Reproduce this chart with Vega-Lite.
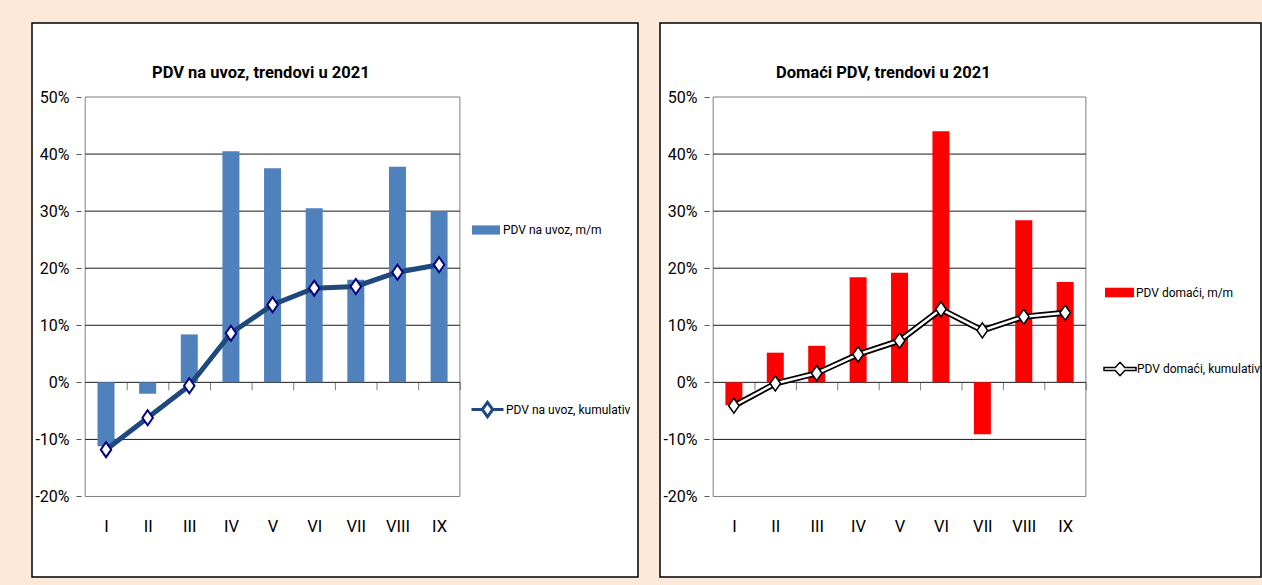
{
  "$schema": "https://vega.github.io/schema/vega-lite/v6.json",
  "background": "#FDE9D9",
  "padding": {"left": 31, "top": 22, "right": 0, "bottom": 7},
  "spacing": 20,
  "datasets": {
    "uvoz": [
      {"m": 1, "mm": -0.112, "kum": -0.118},
      {"m": 2, "mm": -0.02, "kum": -0.062},
      {"m": 3, "mm": 0.084, "kum": -0.006},
      {"m": 4, "mm": 0.405, "kum": 0.086},
      {"m": 5, "mm": 0.375, "kum": 0.136},
      {"m": 6, "mm": 0.305, "kum": 0.165},
      {"m": 7, "mm": 0.18, "kum": 0.168},
      {"m": 8, "mm": 0.378, "kum": 0.193},
      {"m": 9, "mm": 0.30, "kum": 0.206}
    ],
    "domaci": [
      {"m": 1, "mm": -0.04, "kum": -0.041},
      {"m": 2, "mm": 0.052, "kum": -0.002},
      {"m": 3, "mm": 0.064, "kum": 0.016},
      {"m": 4, "mm": 0.184, "kum": 0.049},
      {"m": 5, "mm": 0.192, "kum": 0.073},
      {"m": 6, "mm": 0.44, "kum": 0.128},
      {"m": 7, "mm": -0.091, "kum": 0.091},
      {"m": 8, "mm": 0.284, "kum": 0.115},
      {"m": 9, "mm": 0.176, "kum": 0.122}
    ],
    "grid": [{"v": -0.1}, {"v": 0}, {"v": 0.1}, {"v": 0.2}, {"v": 0.3}, {"v": 0.4}],
    "frame": [{"part": "plot area"}]
  },
  "hconcat": [
    {
      "width": 606,
      "height": 554,
      "title": {"text": "PDV na uvoz, trendovi u 2021", "anchor": "start", "frame": "group", "orient": "top", "offset": -71, "baseline": "alphabetic", "dx": 120},
      "layer": [
        {
          "data": {"name": "frame"},
          "mark": {"type": "rect", "fill": "transparent", "stroke": "#7f7f7f", "strokeWidth": 1},
          "encoding": {
            "x": {"datum": 0.5, "type": "quantitative", "scale": {"domain": [-0.6575, 13.657], "nice": false, "zero": false}, "axis": {"title": null, "values": [1,2,3,4,5,6,7,8,9], "labelExpr": "['I','II','III','IV','V','VI','VII','VIII','IX'][datum.value-1]", "offset": -80.5}},
            "x2": {"datum": 9.5},
            "y": {"datum": -0.2, "type": "quantitative", "scale": {"domain": [-0.3411, 0.6297], "nice": false, "zero": false}, "axis": {"title": null, "values": [-0.2,-0.1,0,0.1,0.2,0.3,0.4,0.5], "labelExpr": "round(datum.value*100) + '%'", "offset": -49}},
            "y2": {"datum": 0.5}
          }
        },
        {
          "data": {"name": "grid"},
          "mark": {"type": "rule", "color": "#1a1a1a", "strokeWidth": 1},
          "encoding": {
            "x": {"datum": 0.5, "type": "quantitative"},
            "x2": {"datum": 9.5},
            "y": {"field": "v", "type": "quantitative"}
          }
        },
        {
          "data": {"name": "uvoz"},
          "mark": {"type": "bar", "orient": "vertical", "width": 17},
          "encoding": {
            "x": {"field": "m", "type": "quantitative"},
            "y": {"field": "mm", "type": "quantitative"},
            "y2": {"datum": 0},
            "fill": {"datum": "PDV na uvoz, m/m", "type": "nominal", "scale": {"range": ["#4F81BD"]},
              "legend": {"title": null, "orient": "none", "legendX": 440, "legendY": 193, "symbolType": "M-1,-0.33H1V0.33H-1Z", "symbolSize": 784, "symbolStrokeWidth": 0, "labelOffset": 3}}
          }
        },
        {
          "data": {"name": "uvoz"},
          "mark": {"type": "tick", "orient": "vertical", "size": 8, "thickness": 1, "color": "#444", "xOffset": 21.2, "yOffset": 4},
          "encoding": {
            "x": {"field": "m", "type": "quantitative"},
            "y": {"datum": 0, "type": "quantitative"}
          }
        },
        {
          "data": {"name": "uvoz"},
          "mark": {"type": "line", "strokeWidth": 5},
          "encoding": {
            "x": {"field": "m", "type": "quantitative"},
            "y": {"field": "kum", "type": "quantitative"},
            "stroke": {"datum": "PDV na uvoz, kumulativ", "type": "nominal", "scale": {"range": ["#1F497D"]},
              "legend": {"title": null, "orient": "none", "legendX": 438, "legendY": 369, "symbolType": "M-1,0H-0.33M0.33,0H1M0,-0.45L0.33,0L0,0.45L-0.33,0Z", "symbolSize": 1024, "symbolStrokeWidth": 3, "symbolFillColor": "white", "labelOffset": 1}}
          }
        },
        {
          "data": {"name": "uvoz"},
          "mark": {"type": "point", "shape": "M0,-1L0.7,0L0,1L-0.7,0Z", "size": 225, "filled": true, "fill": "white", "stroke": "#000080", "strokeWidth": 2, "opacity": 1},
          "encoding": {
            "x": {"field": "m", "type": "quantitative"},
            "y": {"field": "kum", "type": "quantitative"}
          }
        }
      ]
    },
    {
      "width": 601,
      "height": 554,
      "title": {"text": "Domaći PDV, trendovi u 2021", "anchor": "start", "frame": "group", "orient": "top", "offset": -71, "baseline": "alphabetic", "dx": 116},
      "layer": [
        {
          "data": {"name": "frame"},
          "mark": {"type": "rect", "fill": "transparent", "stroke": "#7f7f7f", "strokeWidth": 1},
          "encoding": {
            "x": {"datum": 0.5, "type": "quantitative", "scale": {"domain": [-0.6636, 13.608], "nice": false, "zero": false}, "axis": {"title": null, "values": [1,2,3,4,5,6,7,8,9], "labelExpr": "['I','II','III','IV','V','VI','VII','VIII','IX'][datum.value-1]", "offset": -80.5}},
            "x2": {"datum": 9.5},
            "y": {"datum": -0.2, "type": "quantitative", "scale": {"domain": [-0.3411, 0.6297], "nice": false, "zero": false}, "axis": {"title": null, "values": [-0.2,-0.1,0,0.1,0.2,0.3,0.4,0.5], "labelExpr": "round(datum.value*100) + '%'", "offset": -49}},
            "y2": {"datum": 0.5}
          }
        },
        {
          "data": {"name": "grid"},
          "mark": {"type": "rule", "color": "#1a1a1a", "strokeWidth": 1},
          "encoding": {
            "x": {"datum": 0.5, "type": "quantitative"},
            "x2": {"datum": 9.5},
            "y": {"field": "v", "type": "quantitative"}
          }
        },
        {
          "data": {"name": "domaci"},
          "mark": {"type": "bar", "orient": "vertical", "width": 17},
          "encoding": {
            "x": {"field": "m", "type": "quantitative"},
            "y": {"field": "mm", "type": "quantitative"},
            "y2": {"datum": 0},
            "fill": {"datum": "PDV domaći, m/m", "type": "nominal", "scale": {"range": ["#FF0000"]},
              "legend": {"title": null, "orient": "none", "legendX": 445, "legendY": 255, "symbolType": "M-1,-0.33H1V0.33H-1Z", "symbolSize": 841, "symbolStrokeWidth": 0, "labelOffset": 2}}
          }
        },
        {
          "data": {"name": "domaci"},
          "mark": {"type": "tick", "orient": "vertical", "size": 8, "thickness": 1, "color": "#444", "xOffset": 21.05, "yOffset": 4},
          "encoding": {
            "x": {"field": "m", "type": "quantitative"},
            "y": {"datum": 0, "type": "quantitative"}
          }
        },
        {
          "data": {"name": "domaci"},
          "mark": {"type": "line", "strokeWidth": 6},
          "encoding": {
            "x": {"field": "m", "type": "quantitative"},
            "y": {"field": "kum", "type": "quantitative"},
            "stroke": {"datum": "PDV domaći, kumulativ", "type": "nominal", "scale": {"range": ["#000000"]},
              "legend": {"title": null, "orient": "none", "legendX": 443, "legendY": 329, "symbolType": "M-1,-0.1H-0.3L0,-0.42L0.3,-0.1H1V0.1H0.3L0,0.42L-0.3,0.1H-1Z", "symbolSize": 1024, "symbolStrokeWidth": 1.5, "symbolFillColor": "white", "labelOffset": 0}}
          }
        },
        {
          "data": {"name": "domaci"},
          "mark": {"type": "line", "strokeWidth": 2.5, "color": "white"},
          "encoding": {
            "x": {"field": "m", "type": "quantitative"},
            "y": {"field": "kum", "type": "quantitative"}
          }
        },
        {
          "data": {"name": "domaci"},
          "mark": {"type": "point", "shape": "M0,-1L0.7,0L0,1L-0.7,0Z", "size": 225, "filled": true, "fill": "white", "stroke": "#000000", "strokeWidth": 1.5, "opacity": 1},
          "encoding": {
            "x": {"field": "m", "type": "quantitative"},
            "y": {"field": "kum", "type": "quantitative"}
          }
        }
      ]
    }
  ],
  "resolve": {
    "scale": {"x": "independent", "y": "independent", "fill": "independent", "stroke": "independent"},
    "legend": {"fill": "independent", "stroke": "independent"}
  },
  "config": {
    "view": {"stroke": "#000000", "strokeWidth": 1.5, "fill": "white"},
    "title": {"font": "Roboto, Liberation Sans, sans-serif", "fontSize": 16.5, "fontWeight": "bold", "color": "#000000"},
    "axis": {"domain": false, "grid": false, "labelFont": "Roboto, Liberation Sans, sans-serif", "labelColor": "#000000", "labelOverlap": false, "labelFlush": false},
    "axisY": {"ticks": true, "tickSize": 5, "tickColor": "#555555", "labelPadding": 7, "labelFontSize": 16},
    "axisX": {"ticks": false, "labelPadding": 22, "labelFontSize": 16.5},
    "legend": {"labelFont": "Roboto, Liberation Sans, sans-serif", "labelFontSize": 12, "labelColor": "#000000", "padding": 0, "labelLimit": 300}
  }
}
